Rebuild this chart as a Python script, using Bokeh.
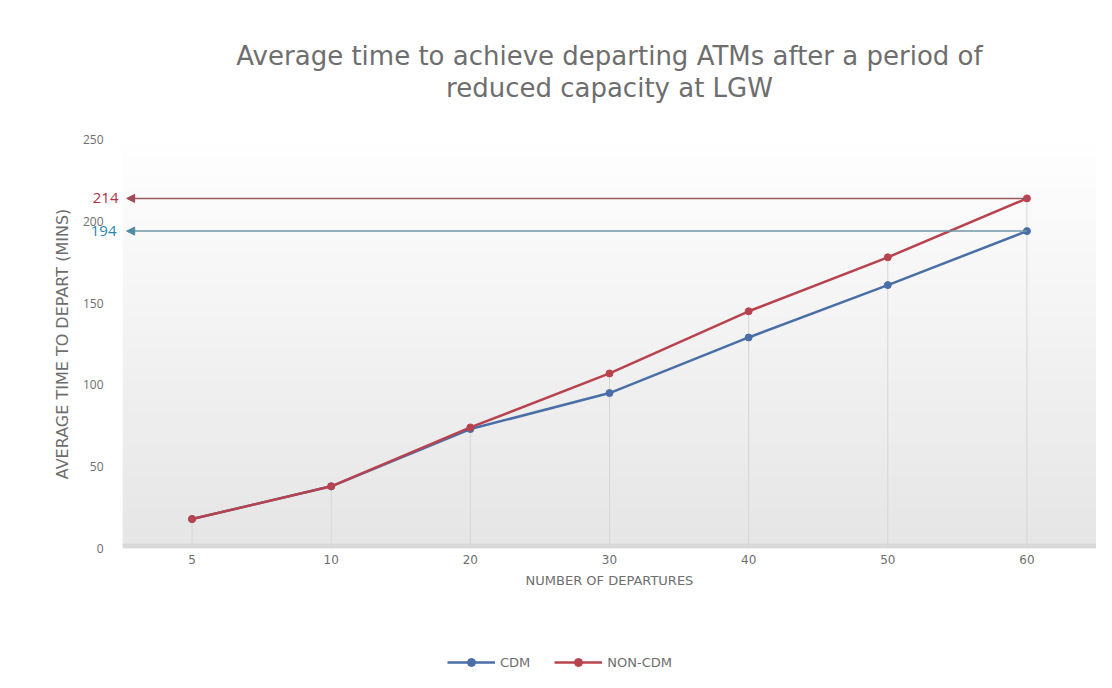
import numpy as np
from bokeh.plotting import figure
from bokeh.layouts import column
from bokeh.models import (Range1d, FixedTicker, Title, Legend, LegendItem, Arrow,
                          NormalHead, BoxAnnotation, LinearAxis)
from bokeh.embed import file_html
from bokeh.resources import INLINE

# ---- data ----
departures = ["5", "10", "20", "30", "40", "50", "60"]
cdm = [18, 38, 73, 95, 129, 161, 194]
non_cdm = [18, 38, 74, 107, 145, 178, 214]
y_ticks = [0, 50, 100, 150, 200, 250]
title_lines = ["Average time to achieve departing ATMs after a period of",
               "reduced capacity at LGW"]
series_names = ["CDM", "NON-CDM"]
x_title = "NUMBER OF DEPARTURES"
y_title = "AVERAGE TIME TO DEPART (MINS)"

FONT = "Open Sans"
WIDE = "DejaVu Sans"
GREY = "#6e6e6e"
BLUE = "#4a6ea6"
RED = "#b8434f"

idx = list(range(len(departures)))

p = figure(frame_width=974, frame_height=409,
           x_range=Range1d(-0.5, len(departures) - 0.5),
           y_range=Range1d(0, 250),
           y_axis_location=None,
           output_backend="svg", toolbar_location=None,
           min_border_left=122, min_border_right=0,
           min_border_top=139, min_border_bottom=0,
           outline_line_color=None, background_fill_color="white",
           border_fill_color="white")

# background gradient (white at top to light grey at bottom)
n = 64
shade = np.linspace(230, 255, n).astype(np.uint32)
img = np.empty((n, 1), dtype=np.uint32)
view = img.view(dtype=np.uint8).reshape((n, 1, 4))
view[:, 0, 0] = shade
view[:, 0, 1] = shade
view[:, 0, 2] = shade
view[:, 0, 3] = 255
p.image_rgba(image=[img], x=-0.5, y=0, dw=len(departures), dh=250, level="image")
p.add_layout(BoxAnnotation(bottom=0, top=3, fill_color="#d9d9d9", fill_alpha=1,
                           line_color=None, level="underlay"))

# drop lines
p.segment(x0=idx, y0=[0] * len(idx), x1=idx,
          y1=[max(a, b) for a, b in zip(cdm, non_cdm)],
          line_color="#d6d6d6", line_width=1)

# series
p.line(idx, cdm, line_color=BLUE, line_width=2.5)
p.scatter(idx, cdm, size=7, fill_color=BLUE, line_color=BLUE)
p.line(idx, non_cdm, line_color=RED, line_width=2.5)
p.scatter(idx, non_cdm, size=7, fill_color=RED, line_color=RED)

# annotation arrows
p.add_layout(Arrow(end=NormalHead(size=8, fill_color="#a04a55", line_color="#a04a55"),
                   x_start=idx[-1], y_start=non_cdm[-1], x_end=-0.47, y_end=non_cdm[-1],
                   line_color="#9a5860", line_width=1.5))
p.add_layout(Arrow(end=NormalHead(size=8, fill_color="#4f8aa3", line_color="#4f8aa3"),
                   x_start=idx[-1], y_start=cdm[-1], x_end=-0.47, y_end=cdm[-1],
                   line_color="#6d97a6", line_width=1.5))


def plain_axis(ax):
    ax.axis_line_color = None
    ax.major_tick_line_color = None
    ax.minor_tick_line_color = None
    ax.major_tick_out = 0
    ax.major_tick_in = 0
    ax.minor_tick_out = 0
    ax.minor_tick_in = 0
    return ax


# callout values on the left (closest to the frame first)
ax_non = plain_axis(LinearAxis(ticker=FixedTicker(ticks=[non_cdm[-1]])))
ax_non.major_label_text_color = "#b03048"
ax_non.major_label_text_font = FONT
ax_non.major_label_text_font_size = "15px"
ax_non.major_label_standoff = 4
p.add_layout(ax_non, "left")

ax_cdm = plain_axis(LinearAxis(ticker=FixedTicker(ticks=[cdm[-1]])))
ax_cdm.major_label_text_color = "#2a86ad"
ax_cdm.major_label_text_font = FONT
ax_cdm.major_label_text_font_size = "15px"
ax_cdm.major_label_standoff = -27
p.add_layout(ax_cdm, "left")

ax_y = plain_axis(LinearAxis(ticker=FixedTicker(ticks=y_ticks)))
ax_y.major_label_text_color = GREY
ax_y.major_label_text_font = FONT
ax_y.major_label_text_font_size = "12px"
ax_y.major_label_standoff = -16
ax_y.axis_label = y_title
ax_y.axis_label_text_color = GREY
ax_y.axis_label_text_font = WIDE
ax_y.axis_label_text_font_size = "16px"
ax_y.axis_label_text_font_style = "normal"
ax_y.axis_label_standoff = 8
p.add_layout(ax_y, "left")

# x axis
xa = plain_axis(p.xaxis[0])
xa.ticker = FixedTicker(ticks=idx)
xa.major_label_overrides = {i: d for i, d in zip(idx, departures)}
xa.major_label_text_color = GREY
xa.major_label_text_font = WIDE
xa.major_label_text_font_size = "12px"
xa.major_label_standoff = 6
xa.axis_label = x_title
xa.axis_label_text_color = GREY
xa.axis_label_text_font = WIDE
xa.axis_label_text_font_size = "13px"
xa.axis_label_text_font_style = "normal"
xa.axis_label_standoff = 6
p.xgrid.grid_line_color = None
p.ygrid.grid_line_color = None

# title lines (closest to frame added first)
p.add_layout(Title(text=" ", text_font_size="30px", text_font=WIDE, standoff=0), "above")
p.add_layout(Title(text=title_lines[1], align="center", text_font=WIDE, standoff=0,
                   text_font_size="26px", text_font_style="normal",
                   text_color=GREY), "above")
p.add_layout(Title(text=title_lines[0], align="center", text_font=WIDE, standoff=0,
                   text_font_size="26px", text_font_style="normal",
                   text_color=GREY), "above")

# legend strip underneath the chart (series drawn outside its visible range,
# only their legend glyphs show)
lg = figure(width=1096, height=86, x_range=Range1d(-100, -99), y_range=Range1d(-100, -99),
            x_axis_location=None, y_axis_location=None,
            output_backend="svg", toolbar_location=None,
            min_border=0, outline_line_color=None,
            background_fill_color="white", border_fill_color="white")
lg.grid.visible = False
g1 = lg.line(idx, cdm, line_color=BLUE, line_width=2.5)
s1 = lg.scatter(idx, cdm, size=7, fill_color=BLUE, line_color=BLUE)
g2 = lg.line(idx, non_cdm, line_color=RED, line_width=2.5)
s2 = lg.scatter(idx, non_cdm, size=7, fill_color=RED, line_color=RED)
legend = Legend(items=[LegendItem(label=series_names[0], renderers=[g1, s1]),
                       LegendItem(label=series_names[1], renderers=[g2, s2])],
                orientation="horizontal", location=(325, 4),
                border_line_color=None, background_fill_alpha=0,
                label_text_font=WIDE, label_text_font_size="13px",
                label_text_color=GREY, glyph_width=48, spacing=24, margin=0,
                padding=4)
lg.add_layout(legend, "center")

layout = column(p, lg, spacing=0)
open("out.html", "w").write(file_html(layout, INLINE))
